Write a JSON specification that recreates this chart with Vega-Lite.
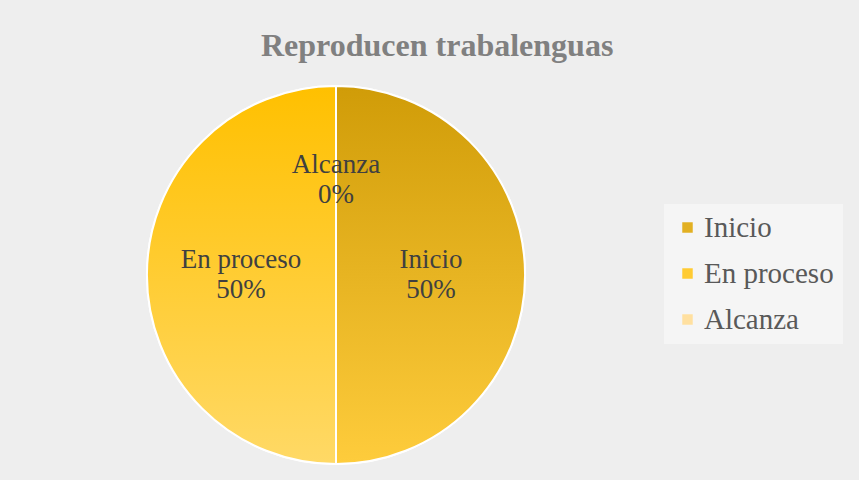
{
  "$schema": "https://vega.github.io/schema/vega-lite/v6.json",
  "width": 400,
  "height": 364,
  "autosize": {"type": "none"},
  "padding": {"left": 136, "top": 93, "right": 323, "bottom": 23},
  "background": "#eeeeee",
  "title": {
    "text": "Reproducen trabalenguas",
    "font": "Liberation Serif",
    "fontSize": 32,
    "fontWeight": "bold",
    "color": "#808080",
    "anchor": "start",
    "dx": 125,
    "offset": 19
  },
  "config": {"view": {"stroke": null}},
  "data": {
    "values": [
      {"cat": "Inicio", "pct": 50, "ord": 1},
      {"cat": "En proceso", "pct": 50, "ord": 2},
      {"cat": "Alcanza", "pct": 0, "ord": 3}
    ]
  },
  "transform": [
    {"calculate": "datum.cat + '\\n' + datum.pct + '%'", "as": "label"}
  ],
  "encoding": {
    "theta": {"field": "pct", "type": "quantitative", "stack": true},
    "order": {"field": "ord", "type": "quantitative"}
  },
  "layer": [
    {
      "mark": {"type": "arc", "radius": 189, "stroke": "white", "strokeWidth": 2},
      "encoding": {
        "color": {
          "field": "cat",
          "type": "nominal",
          "scale": {
            "domain": ["Inicio", "En proceso", "Alcanza"],
            "range": ["#E2B022", "#FFCB33", "#FFE0A0"]
          },
          "legend": {
            "title": null,
            "orient": "none",
            "legendX": 528,
            "legendY": 111,
            "symbolType": "square",
            "symbolSize": 110,
            "symbolStrokeWidth": 0,
            "labelFont": "Liberation Serif",
            "labelFontSize": 29,
            "labelColor": "#595959",
            "labelOffset": 2,
            "rowPadding": 16,
            "fillColor": "#f5f5f5",
            "padding": 9
          }
        }
      }
    },
    {
      "mark": {"type": "arc", "radius": 189, "stroke": "white", "strokeWidth": 2},
      "encoding": {
        "fill": {
          "condition": [
            {
              "test": "datum.cat === 'Inicio'",
              "value": {
                "gradient": "linear",
                "x1": 0, "y1": 0, "x2": 0, "y2": 1,
                "stops": [
                  {"offset": 0, "color": "#D09C08"},
                  {"offset": 1, "color": "#FECC3C"}
                ]
              }
            },
            {
              "test": "datum.cat === 'En proceso'",
              "value": {
                "gradient": "linear",
                "x1": 0, "y1": 0, "x2": 0, "y2": 1,
                "stops": [
                  {"offset": 0, "color": "#FFC000"},
                  {"offset": 1, "color": "#FFD966"}
                ]
              }
            }
          ],
          "value": "#FFE0A0"
        }
      }
    },
    {
      "mark": {
        "type": "text",
        "radius": 95,
        "dy": -15,
        "font": "Liberation Serif",
        "fontSize": 27,
        "color": "#404040",
        "lineBreak": "\n",
        "lineHeight": 30,
        "baseline": "middle"
      },
      "encoding": {
        "text": {"field": "label"}
      }
    }
  ]
}
